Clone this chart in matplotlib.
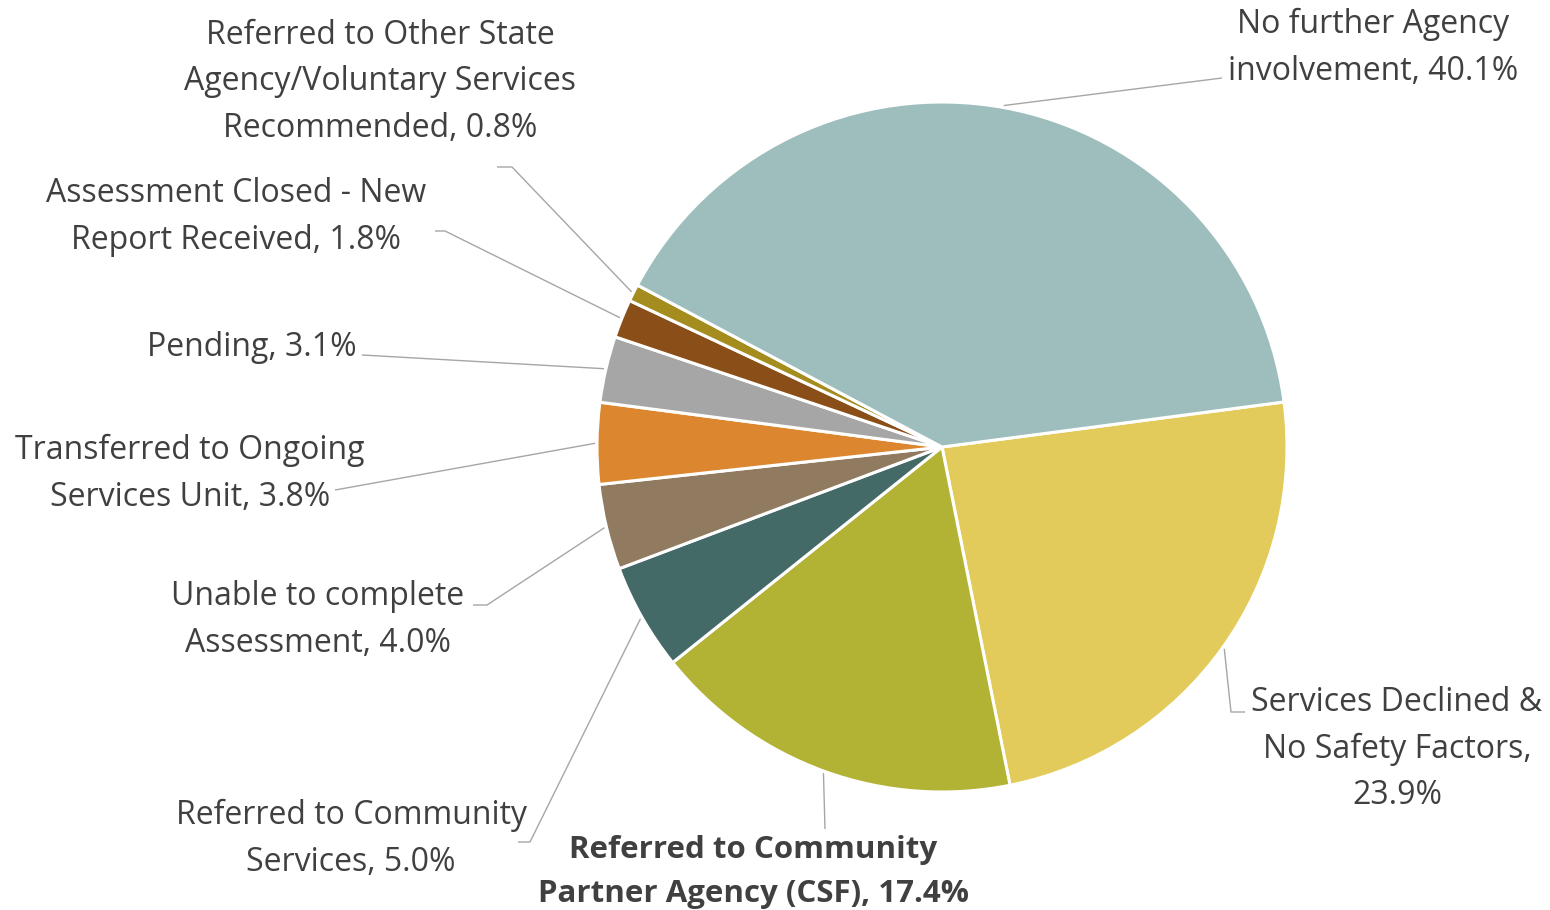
import numpy as np
import matplotlib.pyplot as plt

# slice values, clockwise from the right-hand edge
categories = [
    "Services Declined &\nNo Safety Factors,\n23.9%",
    "Referred to Community\nPartner Agency (CSF), 17.4%",
    "Referred to Community\nServices, 5.0%",
    "Unable to complete\nAssessment, 4.0%",
    "Transferred to Ongoing\nServices Unit, 3.8%",
    "Pending, 3.1%",
    "Assessment Closed - New\nReport Received, 1.8%",
    "Referred to Other State\nAgency/Voluntary Services\nRecommended, 0.8%",
    "No further Agency\ninvolvement, 40.1%",
]
values = [23.9, 17.4, 5.0, 4.0, 3.8, 3.1, 1.8, 0.8, 40.1]
colors = ["#E2CB5A", "#B2B335", "#446A68", "#917B60", "#DC8630",
          "#A6A6A6", "#8A4F18", "#A58C1E", "#9DBEBD"]

W, H = 1550, 910
cx, cy, R = 942, 447, 345   # pie centre / radius in pixels (y from top)

# label centre (px) and leader path points after the wedge edge (px)
label_pos = [(1397, 749), (753, 872), (351, 839), (318, 620), (190, 474),
             (252, 348), (236, 217), (380, 82), (1373, 48)]
leader_pts = [
    [(1231, 712), (1245, 712)],
    [(825, 829)],
    [(530, 842), (518, 842)],
    [(487, 605), (473, 605)],
    [(335, 490)],
    [(362, 355)],
    [(445, 231), (435, 231)],
    [(512, 167), (497, 167)],
    [(1222, 78)],
]

plt.rcParams['font.family'] = ['Open Sans', 'DejaVu Sans']

fig = plt.figure(figsize=(W / 100, H / 100), dpi=100)
ax = fig.add_axes([0, 0, 1, 1])

wedges, _ = ax.pie(values, colors=colors, startangle=7.5, counterclock=False,
                   center=(cx, H - cy), radius=R,
                   wedgeprops=dict(edgecolor='white', linewidth=2.2))
ax.set_xlim(0, W)
ax.set_ylim(0, H)
ax.set_aspect('equal')
ax.axis('off')

for i, w in enumerate(wedges):
    mid = np.deg2rad((w.theta1 + w.theta2) / 2)
    x0 = cx + (R + 2) * np.cos(mid)
    y0 = (H - cy) + (R + 2) * np.sin(mid)
    xs = [x0] + [p[0] for p in leader_pts[i]]
    ys = [y0] + [H - p[1] for p in leader_pts[i]]
    ax.plot(xs, ys, color='#A6A6A6', lw=1.0, solid_capstyle='butt')

    bold = i == 1
    lx, ly = label_pos[i]
    ax.text(lx, H - ly, categories[i], ha='center', va='center',
            fontsize=22.5 if bold else 23, color='#404040',
            linespacing=1.58 if bold else 1.55,
            fontweight='bold' if bold else 'normal')

fig.savefig('out.png', dpi=100)
